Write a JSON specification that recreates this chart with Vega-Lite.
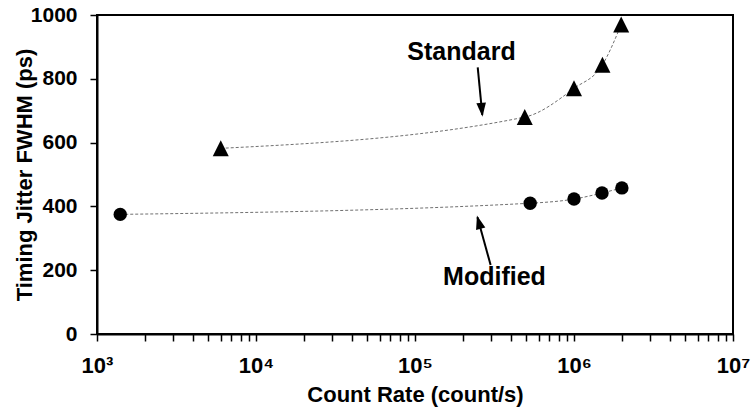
{
  "$schema": "https://vega.github.io/schema/vega-lite/v6.json",
  "width": 636,
  "height": 319,
  "autosize": "none",
  "padding": {"left": 97, "top": 15, "right": 22, "bottom": 79},
  "background": "white",
  "config": {
    "view": {"stroke": "black", "strokeWidth": 2},
    "font": "Liberation Sans",
    "axis": {
      "domainColor": "black", "domainWidth": 2, "tickColor": "black", "tickWidth": 1.5,
      "labelColor": "black", "titleColor": "black", "labelFont": "Liberation Sans", "titleFont": "Liberation Sans",
      "labelFontWeight": "bold", "titleFontWeight": "bold", "grid": false
    }
  },
  "datasets": {
    "points": [
      {"rate": 6000, "jitter": 582, "series": "Standard"},
      {"rate": 490000, "jitter": 680, "series": "Standard"},
      {"rate": 1000000, "jitter": 770, "series": "Standard"},
      {"rate": 1510000, "jitter": 844, "series": "Standard"},
      {"rate": 1980000, "jitter": 970, "series": "Standard"},
      {"rate": 1400, "jitter": 375, "series": "Modified"},
      {"rate": 530000, "jitter": 410, "series": "Modified"},
      {"rate": 1000000, "jitter": 423, "series": "Modified"},
      {"rate": 1500000, "jitter": 442, "series": "Modified"},
      {"rate": 2000000, "jitter": 458, "series": "Modified"}
    ],
    "labels": [
      {"label": "Standard", "rate": 196000, "jitter": 884},
      {"label": "Modified", "rate": 316000, "jitter": 179}
    ],
    "arrows": [
      {"label": "Standard", "rate": 248000, "jitter": 836, "rate2": 265000, "jitter2": 687},
      {"label": "Modified", "rate": 299000, "jitter": 216, "rate2": 247000, "jitter2": 366}
    ]
  },
  "layer": [
    {
      "data": {"name": "points"},
      "mark": {"type": "line", "interpolate": "monotone", "color": "#707070", "strokeWidth": 1, "strokeDash": [3, 2]},
      "encoding": {
        "x": {"field": "rate", "type": "quantitative",
          "scale": {"type": "log", "domain": [1000, 10000000], "nice": false},
          "axis": {
            "title": "Count Rate (count/s)", "titleFontSize": 22, "titlePadding": 8,
            "labelFontSize": 22, "labelPadding": 14, "tickSize": 7,
            "values": [1000,2000,3000,4000,5000,6000,7000,8000,9000,10000,20000,30000,40000,50000,60000,70000,80000,90000,100000,200000,300000,400000,500000,600000,700000,800000,900000,1000000,2000000,3000000,4000000,5000000,6000000,7000000,8000000,9000000,10000000],
            "labelExpr": "datum.value == 1000 ? '10³' : datum.value == 10000 ? '10⁴' : datum.value == 100000 ? '10⁵' : datum.value == 1000000 ? '10⁶' : datum.value == 10000000 ? '10⁷' : ''",
            "labelFlush": false, "labelOverlap": false
          }
        },
        "y": {"field": "jitter", "type": "quantitative",
          "scale": {"domain": [0, 1000], "nice": false},
          "axis": {
            "title": "Timing Jitter FWHM (ps)", "titleFontSize": 22, "titlePadding": -6,
            "labelFontSize": 21, "labelPadding": 13, "tickSize": 7, "format": "d",
            "values": [0, 200, 400, 600, 800, 1000]
          }
        },
        "detail": {"field": "series"}
      }
    },
    {
      "data": {"name": "points"},
      "transform": [{"filter": "datum.series == 'Standard'"}],
      "mark": {"type": "point", "shape": "M0,-1L1,1L-1,1Z", "filled": true, "color": "black", "opacity": 1, "size": 256},
      "encoding": {
        "x": {"field": "rate", "type": "quantitative", "scale": {"type": "log"}},
        "y": {"field": "jitter", "type": "quantitative"}
      }
    },
    {
      "data": {"name": "points"},
      "transform": [{"filter": "datum.series == 'Modified'"}],
      "mark": {"type": "point", "shape": "circle", "filled": true, "color": "black", "opacity": 1, "size": 180},
      "encoding": {
        "x": {"field": "rate", "type": "quantitative", "scale": {"type": "log"}},
        "y": {"field": "jitter", "type": "quantitative"}
      }
    },
    {
      "data": {"name": "labels"},
      "mark": {"type": "text", "fontSize": 25, "fontWeight": "bold", "font": "Liberation Sans", "color": "black", "align": "center", "baseline": "middle"},
      "encoding": {
        "x": {"field": "rate", "type": "quantitative", "scale": {"type": "log"}},
        "y": {"field": "jitter", "type": "quantitative"},
        "text": {"field": "label"}
      }
    },
    {
      "data": {"name": "arrows"},
      "mark": {"type": "rule", "color": "black", "strokeWidth": 2},
      "encoding": {
        "x": {"field": "rate", "type": "quantitative", "scale": {"type": "log"}},
        "y": {"field": "jitter", "type": "quantitative"},
        "x2": {"field": "rate2"},
        "y2": {"field": "jitter2"}
      }
    },
    {
      "data": {"name": "arrows"},
      "transform": [{"filter": "datum.label == 'Standard'"}],
      "mark": {"type": "point", "shape": "M0,0.3L-0.8,-2L0.8,-2Z", "filled": true, "color": "black", "opacity": 1, "size": 144, "angle": 354.5},
      "encoding": {
        "x": {"field": "rate2", "type": "quantitative", "scale": {"type": "log"}},
        "y": {"field": "jitter2", "type": "quantitative"}
      }
    },
    {
      "data": {"name": "arrows"},
      "transform": [{"filter": "datum.label == 'Modified'"}],
      "mark": {"type": "point", "shape": "M0,0.3L-0.8,-2L0.8,-2Z", "filled": true, "color": "black", "opacity": 1, "size": 144, "angle": 164.2},
      "encoding": {
        "x": {"field": "rate2", "type": "quantitative", "scale": {"type": "log"}},
        "y": {"field": "jitter2", "type": "quantitative"}
      }
    }
  ]
}
